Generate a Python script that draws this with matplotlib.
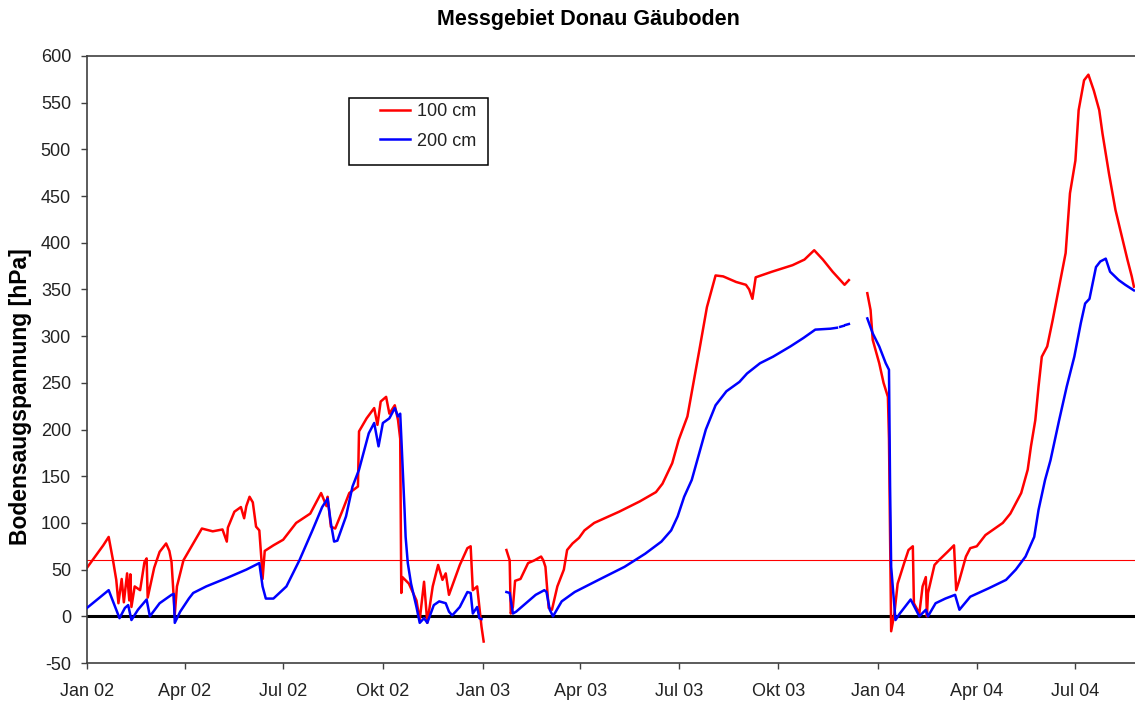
import numpy as np
import pandas as pd
import matplotlib
matplotlib.use('Agg')
import matplotlib.pyplot as plt
from matplotlib.patches import Rectangle

plt.rcParams['font.family'] = ['Liberation Sans', 'DejaVu Sans']
plt.rcParams['axes.unicode_minus'] = False

gap = np.nan

# Bodensaugspannung in 100 cm Tiefe [hPa], Messlücken als nan
red_dates = [
    '2002-01-01', '2002-01-06', '2002-01-11', '2002-01-16', '2002-01-21', '2002-01-25', '2002-01-28',
    '2002-01-30', '2002-02-02', '2002-02-04', '2002-02-07', '2002-02-09', '2002-02-10', '2002-02-11',
    '2002-02-14', '2002-02-19', '2002-02-23', '2002-02-25', '2002-02-26', '2002-03-04', '2002-03-09',
    '2002-03-15', '2002-03-18', '2002-03-20', '2002-03-23', '2002-03-25', '2002-03-31', '2002-04-09',
    '2002-04-17', '2002-04-27', '2002-05-06', '2002-05-10', '2002-05-11', '2002-05-17', '2002-05-23',
    '2002-05-26', '2002-05-28', '2002-05-31', '2002-06-03', '2002-06-06', '2002-06-09', '2002-06-11',
    '2002-06-12', '2002-06-14', '2002-06-22', '2002-07-01', '2002-07-13', '2002-07-26', '2002-08-05',
    '2002-08-10', '2002-08-11', '2002-08-14', '2002-08-18', '2002-08-25', '2002-08-31', '2002-09-08',
    '2002-09-09', '2002-09-16', '2002-09-23', '2002-09-26', '2002-09-29', '2002-10-04', '2002-10-07',
    '2002-10-12', '2002-10-15', '2002-10-17', '2002-10-18', '2002-10-19', '2002-10-25', '2002-11-01',
    '2002-11-04', '2002-11-08', '2002-11-11', '2002-11-16', '2002-11-21', '2002-11-25', '2002-11-28',
    '2002-12-01', '2002-12-11', '2002-12-18', '2002-12-21', '2002-12-23', '2002-12-27', '2002-12-29',
    '2002-12-31', '2003-01-02',
    '2003-01-12',
    '2003-01-23', '2003-01-26', '2003-01-27', '2003-01-29', '2003-01-31', '2003-02-05', '2003-02-12',
    '2003-02-18', '2003-02-24', '2003-02-26', '2003-02-28', '2003-03-03', '2003-03-06', '2003-03-11',
    '2003-03-17', '2003-03-20', '2003-03-25', '2003-03-31', '2003-04-05', '2003-04-14', '2003-05-07',
    '2003-05-26', '2003-06-10', '2003-06-16', '2003-06-25', '2003-07-01', '2003-07-09', '2003-07-14',
    '2003-07-20', '2003-07-27', '2003-08-04', '2003-08-11', '2003-08-23', '2003-09-01', '2003-09-04',
    '2003-09-07', '2003-09-10', '2003-09-25', '2003-10-14', '2003-10-25', '2003-11-03', '2003-11-11',
    '2003-11-20', '2003-12-01', '2003-12-05',
    '2003-12-14',
    '2003-12-22', '2003-12-25', '2003-12-27', '2004-01-02', '2004-01-06', '2004-01-10', '2004-01-11',
    '2004-01-12', '2004-01-13', '2004-01-16', '2004-01-19', '2004-01-25', '2004-01-29', '2004-02-02',
    '2004-02-03', '2004-02-08', '2004-02-11', '2004-02-14', '2004-02-15', '2004-02-16', '2004-02-22',
    '2004-02-26', '2004-03-05', '2004-03-11', '2004-03-13', '2004-03-16', '2004-03-22', '2004-03-26',
    '2004-04-01', '2004-04-09', '2004-04-25', '2004-05-02', '2004-05-12', '2004-05-18', '2004-05-21',
    '2004-05-25', '2004-05-28', '2004-05-31', '2004-06-05', '2004-06-10', '2004-06-16', '2004-06-22',
    '2004-06-26', '2004-07-01', '2004-07-04', '2004-07-09', '2004-07-13', '2004-07-18', '2004-07-23',
    '2004-07-26', '2004-08-01', '2004-08-07', '2004-08-13', '2004-08-18', '2004-08-22', '2004-08-24',
]
red_vals = [
    52, 60, 68, 76, 85, 60, 39,
    14, 40, 15, 46, 17, 45, 10,
    32, 28, 58, 62, 20, 52, 69,
    78, 70, 58, 2, 32, 60, 78,
    94, 91, 93, 80, 95, 112, 117,
    105, 118, 128, 122, 96, 92, 60,
    40, 70, 76, 82, 100, 110, 132,
    118, 128, 96, 94, 114, 132, 139,
    198, 212, 223, 205, 230, 235, 217,
    226, 210, 190, 25, 42, 35, 17,
    -4, 37, -7, 32, 55, 39, 46,
    23, 55, 73, 75, 28, 32, 10,
    -11, -27,
    gap,
    71, 60, 3, 10, 38, 40, 57,
    60, 64, 60, 53, 9, 7, 32,
    50, 71, 78, 84, 92, 100, 112,
    123, 133, 142, 164, 189, 214, 246,
    285, 331, 365, 364, 358, 355, 350,
    340, 363, 369, 376, 382, 392, 382,
    369, 355, 360,
    gap,
    346, 328, 296, 271, 250, 235, 190,
    89, -16, 3, 35, 57, 71, 75,
    14, 3, 32, 42, 0, 25, 55,
    60, 69, 76, 28, 39, 64, 73,
    75, 87, 100, 110, 132, 157, 182,
    210, 246, 278, 289, 317, 353, 389,
    453, 488, 542, 574, 580, 563, 542,
    517, 474, 435, 406, 382, 364, 353,
]

# Bodensaugspannung in 200 cm Tiefe [hPa]
blue_dates = [
    '2002-01-01', '2002-01-21', '2002-01-31', '2002-02-05', '2002-02-08', '2002-02-11', '2002-02-17',
    '2002-02-25', '2002-02-28', '2002-03-09', '2002-03-20', '2002-03-22', '2002-03-23', '2002-03-28',
    '2002-04-01', '2002-04-05', '2002-04-09', '2002-04-21', '2002-05-10', '2002-05-28', '2002-06-09',
    '2002-06-12', '2002-06-15', '2002-06-22', '2002-07-04', '2002-07-16', '2002-07-28', '2002-08-06',
    '2002-08-11', '2002-08-14', '2002-08-17', '2002-08-20', '2002-08-28', '2002-09-03', '2002-09-09',
    '2002-09-18', '2002-09-23', '2002-09-27', '2002-10-01', '2002-10-07', '2002-10-12', '2002-10-15',
    '2002-10-17', '2002-10-18', '2002-10-21', '2002-10-22', '2002-10-24', '2002-10-27', '2002-11-01',
    '2002-11-04', '2002-11-08', '2002-11-11', '2002-11-17', '2002-11-22', '2002-11-28', '2002-12-01',
    '2002-12-04', '2002-12-11', '2002-12-18', '2002-12-21', '2002-12-23', '2002-12-27', '2002-12-29',
    '2002-12-31',
    '2003-01-12',
    '2003-01-23', '2003-01-26', '2003-01-29', '2003-02-01', '2003-02-10', '2003-02-19', '2003-02-27',
    '2003-03-01', '2003-03-04', '2003-03-07', '2003-03-15', '2003-03-27', '2003-04-18', '2003-05-12',
    '2003-05-31', '2003-06-15', '2003-06-24', '2003-06-30', '2003-07-06', '2003-07-13', '2003-07-19',
    '2003-07-26', '2003-08-04', '2003-08-14', '2003-08-26', '2003-09-02', '2003-09-14', '2003-09-26',
    '2003-10-12', '2003-10-24', '2003-11-04', '2003-11-18', '2003-11-24',
    '2003-11-25', '2003-11-27', '2003-11-30',
    '2003-12-01', '2003-12-02', '2003-12-05',
    '2003-12-14',
    '2003-12-22', '2003-12-27', '2004-01-02', '2004-01-08', '2004-01-11', '2004-01-12', '2004-01-13',
    '2004-01-17', '2004-01-21', '2004-01-31', '2004-02-08', '2004-02-14', '2004-02-16', '2004-02-23',
    '2004-03-03', '2004-03-12', '2004-03-16', '2004-03-26', '2004-04-12', '2004-04-28', '2004-05-07',
    '2004-05-16', '2004-05-24', '2004-05-28', '2004-06-03', '2004-06-08', '2004-06-16', '2004-06-23',
    '2004-06-30', '2004-07-06', '2004-07-10', '2004-07-14', '2004-07-20', '2004-07-24', '2004-07-29',
    '2004-08-02', '2004-08-10', '2004-08-16', '2004-08-24',
]
blue_vals = [
    9, 28, -2, 9, 12, -4, 7,
    18, 0, 14, 23, 24, -7, 5,
    12, 19, 25, 32, 41, 50, 57,
    32, 19, 19, 32, 60, 92, 117,
    126, 100, 80, 81, 107, 139, 157,
    196, 207, 182, 207, 212, 223, 214,
    217, 192, 114, 85, 57, 35, 10,
    -7, -2, -7, 12, 16, 14, 5,
    1, 10, 26, 25, 3, 10, -2,
    -3,
    gap,
    26, 25, 3, 5, 14, 23, 28,
    26, 7, 0, 16, 26, 39, 53,
    67, 80, 92, 107, 128, 146, 171,
    200, 226, 241, 251, 260, 271, 278,
    289, 298, 307, 308, 309,
    gap, 310, 311,
    gap, 312, 313,
    gap,
    319, 303, 289, 271, 264, 139, 53,
    -4, 3, 18, 0, 7, 0, 14,
    19, 23, 7, 21, 30, 39, 50,
    64, 85, 114, 146, 167, 210, 246,
    278, 314, 335, 340, 374, 380, 383,
    369, 360, 355, 349,
]

tick_dates = ['2002-01-01', '2002-04-01', '2002-07-01', '2002-10-01', '2003-01-01', '2003-04-01',
              '2003-07-01', '2003-10-01', '2004-01-01', '2004-04-01', '2004-07-01']
tick_labels = ['Jan 02', 'Apr 02', 'Jul 02', 'Okt 02', 'Jan 03', 'Apr 03',
               'Jul 03', 'Okt 03', 'Jan 04', 'Apr 04', 'Jul 04']
threshold = 60

W, H = 1135, 703
fig = plt.figure(figsize=(W / 100, H / 100), dpi=100)
fig.patch.set_facecolor('white')
ax = fig.add_axes([87 / W, 40 / H, 1048 / W, 607 / H])

# reference lines first so the series sit on top
ax.axhline(threshold, color='#ff0000', lw=0.8, zorder=1)
ax.axhline(0, color='black', lw=2.2, zorder=1)

ax.plot(pd.to_datetime(red_dates), red_vals, color='#ff0000', lw=1.8, label='100 cm', zorder=2)
ax.plot(pd.to_datetime(blue_dates), blue_vals, color='#0000ff', lw=1.8, label='200 cm', zorder=3)

ax.set_xlim(pd.Timestamp('2002-01-01'), pd.Timestamp('2004-08-25'))
ax.set_ylim(-50, 600)
ax.set_yticks(np.arange(-50, 601, 50))
ax.set_xticks(pd.to_datetime(tick_dates))
ax.set_xticklabels(tick_labels)

for side in ['left', 'bottom', 'top']:
    ax.spines[side].set_color('#404040')
    ax.spines[side].set_linewidth(1.2)
ax.spines['right'].set_visible(False)
ax.tick_params(axis='both', direction='out', length=4.5, width=1, color='#404040',
               labelsize=13, labelcolor='#222222')
ax.tick_params(axis='x', pad=10)
ax.tick_params(axis='y', pad=7)

# legend without its own frame, box drawn separately
leg = ax.legend(loc='upper left', bbox_to_anchor=(380 / W, 1 - 103 / H),
                bbox_transform=fig.transFigure, frameon=False, fontsize=13,
                borderpad=0, borderaxespad=0, handlelength=1.65, handletextpad=0.38,
                labelspacing=0.7)
for t in leg.get_texts():
    t.set_color('#222222')
fig.add_artist(Rectangle((349 / W, 1 - 165 / H), 139 / W, 67 / H, transform=fig.transFigure,
                         fill=False, ec='black', lw=1.1))

fig.text(588 / W, 1 - 25 / H, 'Messgebiet Donau Gäuboden', ha='center', va='baseline',
         fontsize=15.5, fontweight='bold')
fig.text(21 / W, 1 - 397 / H, 'Bodensaugspannung [hPa]', ha='center', va='center',
         rotation=90, fontsize=16.5, fontweight='bold')

fig.savefig('out.png', dpi=100)
